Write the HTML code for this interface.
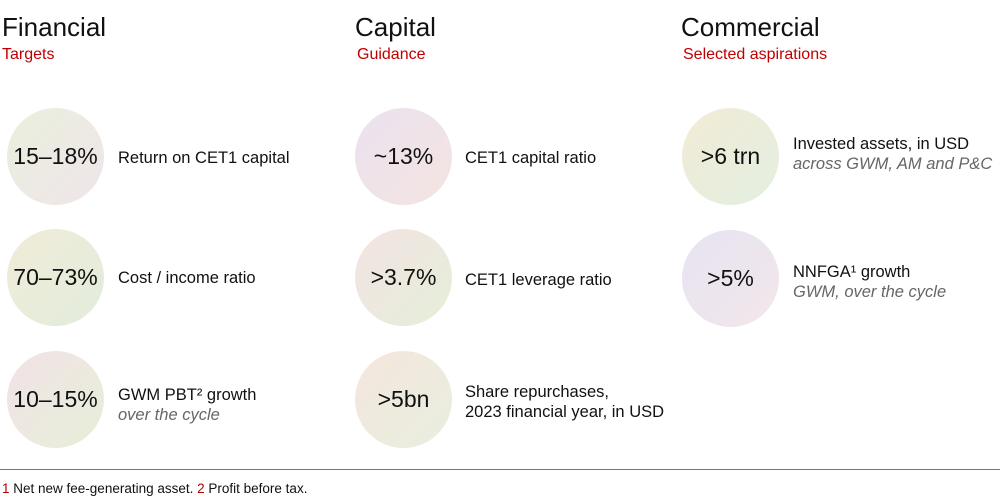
<!DOCTYPE html>
<html><head><style>
body{margin:0;width:1000px;height:499px;background:#fff;font-family:"Liberation Sans",sans-serif;color:#111;position:relative;overflow:hidden}
.a{position:absolute;white-space:nowrap}
.h{font-size:26px;top:12px}
.s{font-size:16px;color:#c00000;top:46px}
.c{position:absolute;width:97px;height:97px;border-radius:50%;display:flex;align-items:center;justify-content:center;font-size:23px}
.l{position:absolute;font-size:16.5px;line-height:20px}
.i{font-style:italic;color:#666}
</style></head><body>
<div class="a h" style="left:2px">Financial</div><div class="a s" style="left:2px">Targets</div>
<div class="a h" style="left:355px">Capital</div><div class="a s" style="left:357px">Guidance</div>
<div class="a h" style="left:681px">Commercial</div><div class="a s" style="left:683px">Selected aspirations</div>

<div class="c" style="left:7px;top:108px;background:linear-gradient(135deg,#e9f0dc,#f0e4ea)">15–18%</div>
<div class="l" style="left:118px;top:148px">Return on CET1 capital</div>
<div class="c" style="left:7px;top:229px;background:linear-gradient(135deg,#f1ecd8,#e2ecdd)">70–73%</div>
<div class="l" style="left:118px;top:268px">Cost / income ratio</div>
<div class="c" style="left:7px;top:351px;background:linear-gradient(135deg,#f2e2e6,#e6efd8)">10–15%</div>
<div class="l" style="left:118px;top:385px">GWM PBT² growth<br><span class="i">over the cycle</span></div>

<div class="c" style="left:355px;top:108px;background:linear-gradient(135deg,#ebe2f0,#f4e4e0)">~13%</div>
<div class="l" style="left:465px;top:148px">CET1 capital ratio</div>
<div class="c" style="left:355px;top:229px;background:linear-gradient(135deg,#f3e3e3,#e5eed9)">&gt;3.7%</div>
<div class="l" style="left:465px;top:270px">CET1 leverage ratio</div>
<div class="c" style="left:355px;top:351px;background:linear-gradient(135deg,#f5e6dc,#e8eee0)">&gt;5bn</div>
<div class="l" style="left:465px;top:382px">Share repurchases,<br>2023 financial year, in USD</div>

<div class="c" style="left:682px;top:108px;background:linear-gradient(135deg,#f2ebd6,#e3efe0)">&gt;6 trn</div>
<div class="l" style="left:793px;top:134px">Invested assets, in USD<br><span class="i">across GWM, AM and P&amp;C</span></div>
<div class="c" style="left:682px;top:230px;background:linear-gradient(135deg,#e6e4f2,#f2e6ea)">&gt;5%</div>
<div class="l" style="left:793px;top:262px">NNFGA¹ growth<br><span class="i">GWM, over the cycle</span></div>

<div class="a" style="left:0;top:469px;width:1000px;border-top:1px solid #777"></div>
<div class="a" style="left:2px;top:481px;font-size:13.5px"><span style="color:#b00000">1</span> Net new fee-generating asset. <span style="color:#b00000">2</span> Profit before tax.</div>
</body></html>
